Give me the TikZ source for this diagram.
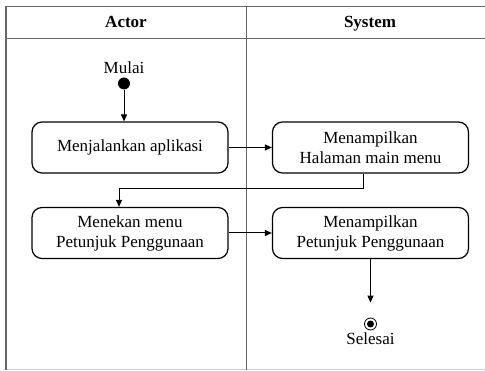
\documentclass[tikz,border=0pt]{standalone}
\usepackage{fontspec}
\setmainfont{Liberation Serif}
\usetikzlibrary{arrows.meta}
\begin{document}
\begin{tikzpicture}[x=1pt,y=-1pt,
  frameline/.style={line width=1.3pt,draw=black!60},
  actbox/.style={draw,line width=1.2pt,rounded corners=10pt,minimum width=196pt,minimum height=51pt,align=center,font=\fontsize{17}{20}\selectfont,inner sep=0pt},
  flow/.style={line width=1pt,-{Triangle[length=7pt,width=6pt]}},
  lbl/.style={font=\fontsize{17}{20}\selectfont,inner sep=0pt},
  hdr/.style={font=\bfseries\fontsize{17}{20}\selectfont,inner sep=0pt,anchor=base}]
\useasboundingbox (0,0) rectangle (485,371);
% swimlane frame
\draw[line width=1pt,draw=black!20] (6,370) -- (490,370);
\draw[frameline] (6,6.5) -- (490,6.5);
\draw[frameline] (6,38.5) -- (490,38.5);
\draw[frameline] (6,6.5) -- (6,370);
\draw[line width=1pt,draw=black!60] (246.5,6.5) -- (246.5,370);
\node[hdr] (hA) at (126,28) {Actor};
\node[hdr] (hS) at (370,28) {System};
% nodes
\node[lbl,anchor=base] (mulai) at (124,74) {Mulai};
\node[circle,fill=black,inner sep=0pt,minimum size=12pt] (start) at (124,83.5) {};
\node[actbox] (b1) at (130,147.5) {Menjalankan aplikasi};
\node[actbox] (b2) at (370.5,147.5) {Menampilkan\\Halaman main menu};
\node[actbox] (b3) at (130,233) {Menekan menu\\Petunjuk Penggunaan};
\node[actbox] (b4) at (370.5,233) {Menampilkan\\Petunjuk Penggunaan};
\node[circle,draw=black,line width=0.8pt,inner sep=0pt,minimum size=12pt] (end) at (370.5,324) {};
\node[circle,fill=black,inner sep=0pt,minimum size=7pt] (endin) at (end.center) {};
\node[lbl,anchor=base] (selesai) at (370.5,345) {Selesai};
\coordinate (k1) at (363,189);
\coordinate (k2) at (119,189);
% connectors
\draw[flow] (start) -- (start |- b1.north);
\draw[flow] (b1) -- (b2);
\draw[flow] (b2.south -| k1) -- (k1) -- (k2) -- (k2 |- b3.north);
\draw[flow] (b3) -- (b4);
\draw[flow,shorten >=15pt] (b4) -- (end);
\end{tikzpicture}
\end{document}
